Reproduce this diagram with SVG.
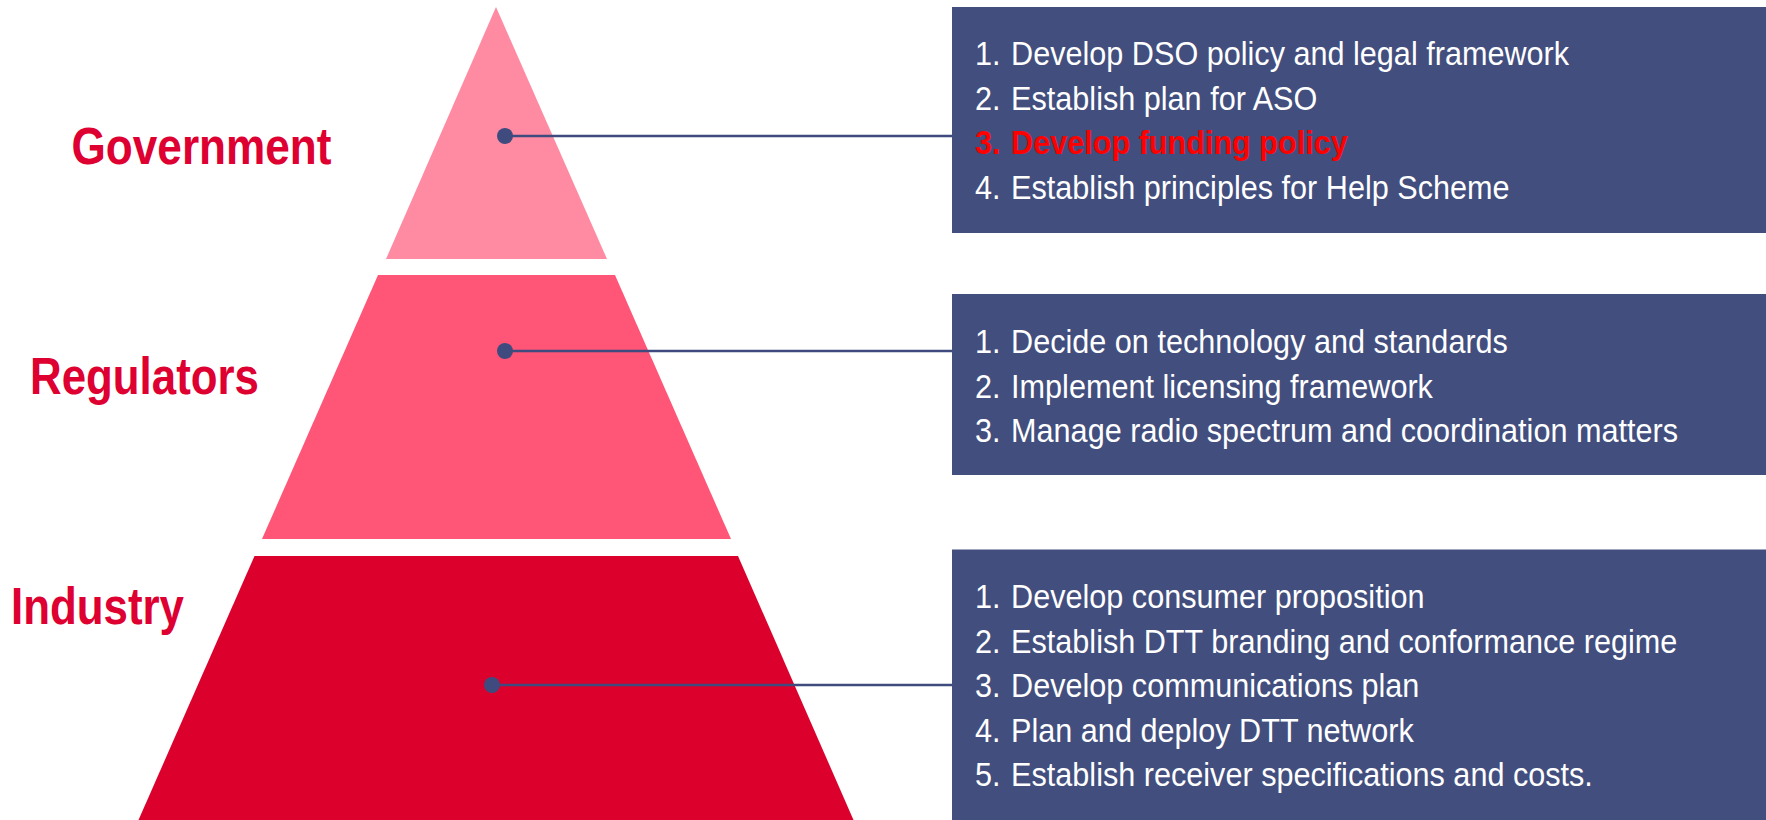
<svg xmlns="http://www.w3.org/2000/svg" width="1766" height="820" viewBox="0 0 1766 820">
<style>
.lbl{font-family:"Liberation Sans Narrow","Liberation Sans",Arial,sans-serif;font-weight:bold;font-size:52px;fill:#DD0031}
.box{fill:#424E7E}
.li{font-family:"Liberation Sans",Arial,sans-serif;font-size:32.5px;fill:#FFFFFF}
.hl{font-weight:bold;fill:#FF0000}
.conn{stroke:#3F4B7E;stroke-width:2.5;fill:none}
.dot{fill:#3F4B7E}
</style>
<rect width="1766" height="820" fill="#FFFFFF"/>
<g id="government">
  <polygon points="496,7 607,259 386,259" fill="#FF8BA3"/>
  <text class="lbl" x="71.5" y="163.5" textLength="260" lengthAdjust="spacingAndGlyphs">Government</text>
</g>
<g id="regulators">
  <polygon points="378,275 615,275 731,539 262,539" fill="#FF5577"/>
  <text class="lbl" x="30" y="393.5" textLength="229" lengthAdjust="spacingAndGlyphs">Regulators</text>
</g>
<g id="industry">
  <polygon points="254.5,556 738,556 853.5,820 138.5,820" fill="#DC002D"/>
  <text class="lbl" x="11" y="624" textLength="173" lengthAdjust="spacingAndGlyphs">Industry</text>
</g>
<g id="government-tasks">
  <rect class="box" x="952" y="7" width="814" height="226"/>
  <g transform="translate(975,0) scale(0.942,1)">
    <text class="li" y="65"><tspan x="0">1.</tspan><tspan x="38.3">Develop DSO policy and legal framework</tspan></text>
    <text class="li" y="109.7"><tspan x="0">2.</tspan><tspan x="38.3">Establish plan for ASO</tspan></text>
    <text class="li hl" y="154.3"><tspan x="0">3.</tspan><tspan x="38.3">Develop funding policy</tspan></text>
    <text class="li" y="199"><tspan x="0">4.</tspan><tspan x="38.3">Establish principles for Help Scheme</tspan></text>
  </g>
</g>
<g id="regulators-tasks">
  <rect class="box" x="952" y="294" width="814" height="181"/>
  <g transform="translate(975,0) scale(0.942,1)">
    <text class="li" y="353.3"><tspan x="0">1.</tspan><tspan x="38.3">Decide on technology and standards</tspan></text>
    <text class="li" y="397.6"><tspan x="0">2.</tspan><tspan x="38.3">Implement licensing framework</tspan></text>
    <text class="li" y="441.9"><tspan x="0">3.</tspan><tspan x="38.3">Manage radio spectrum and coordination matters</tspan></text>
  </g>
</g>
<g id="industry-tasks">
  <rect class="box" x="952" y="549.5" width="814" height="271"/>
  <g transform="translate(975,0) scale(0.942,1)">
    <text class="li" y="608.3"><tspan x="0">1.</tspan><tspan x="38.3">Develop consumer proposition</tspan></text>
    <text class="li" y="652.9"><tspan x="0">2.</tspan><tspan x="38.3">Establish DTT branding and conformance regime</tspan></text>
    <text class="li" y="697.5"><tspan x="0">3.</tspan><tspan x="38.3">Develop communications plan</tspan></text>
    <text class="li" y="742"><tspan x="0">4.</tspan><tspan x="38.3">Plan and deploy DTT network</tspan></text>
    <text class="li" y="786.5"><tspan x="0">5.</tspan><tspan x="38.3">Establish receiver specifications and costs.</tspan></text>
  </g>
</g>
<g id="connectors">
  <line class="conn" x1="505" y1="136" x2="952" y2="136"/>
  <circle class="dot" cx="505" cy="136" r="8"/>
  <line class="conn" x1="505" y1="351" x2="952" y2="351"/>
  <circle class="dot" cx="505" cy="351" r="8"/>
  <line class="conn" x1="492" y1="685" x2="952" y2="685"/>
  <circle class="dot" cx="492" cy="685" r="8"/>
</g>
</svg>
